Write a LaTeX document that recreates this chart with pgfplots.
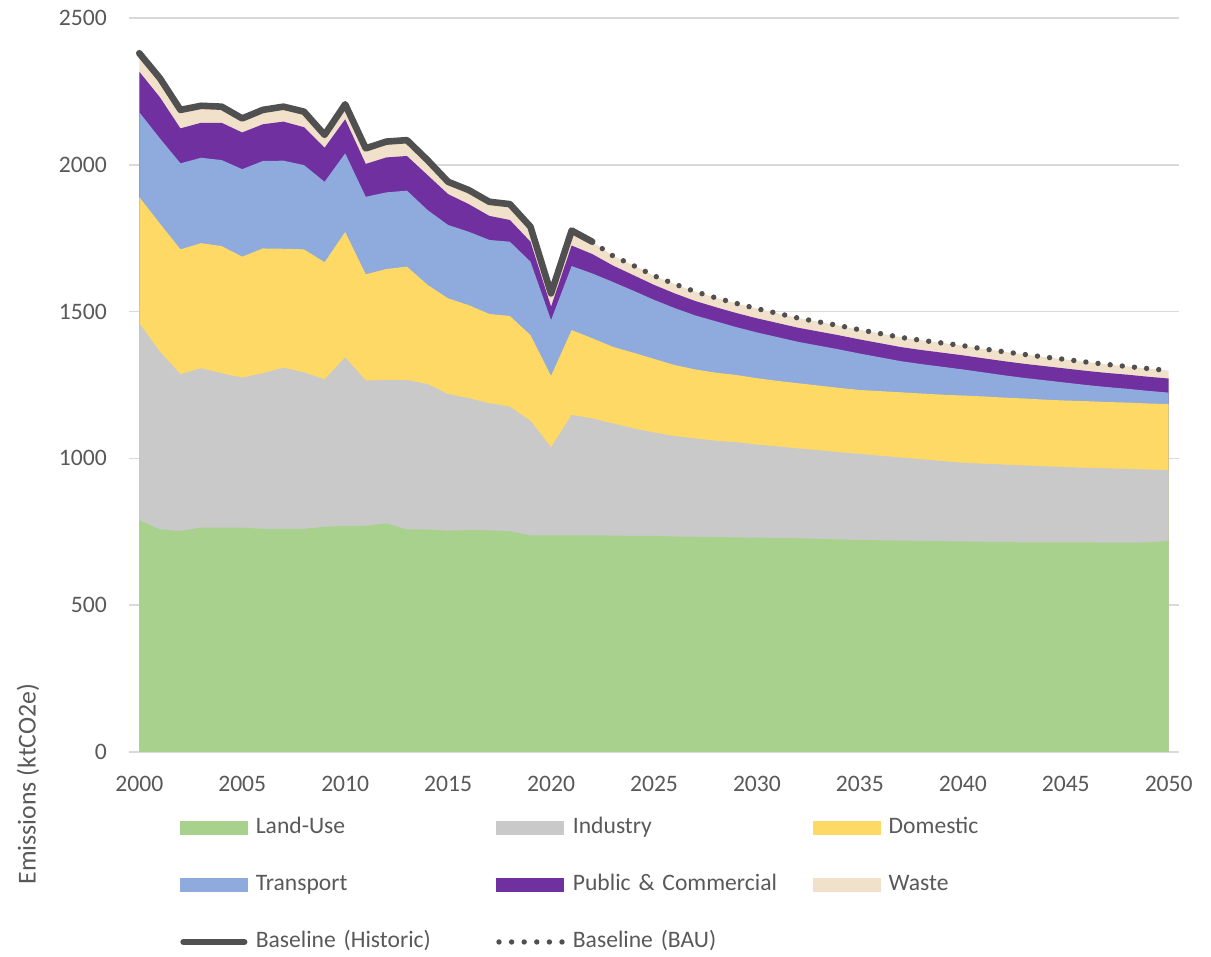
\documentclass[border=0pt]{standalone}
\usepackage{pgfplots}
\pgfplotsset{compat=1.18}
\usepackage{pgfplotstable}
\usepackage{fontspec}
\setmainfont{Carlito}

\definecolor{landc}{HTML}{A9D18E}
\definecolor{indc}{HTML}{C9C9C9}
\definecolor{domc}{HTML}{FFD966}
\definecolor{transc}{HTML}{8FAADC}
\definecolor{pubc}{HTML}{7030A0}
\definecolor{wastec}{HTML}{F2E1CA}
\definecolor{histc}{HTML}{505050}
\definecolor{textc}{HTML}{595959}
\definecolor{gridc}{HTML}{D9D9D9}

% cumulative tops of each band: L=Land-Use, I=+Industry, D=+Domestic, T=+Transport, P=+Public&Commercial, W=+Waste (total)
\pgfplotstableread{
year L I D T P W
2000 790 1460 1890 2179 2317 2380
2001 758 1363 1800 2090 2230 2295
2002 753 1287 1712 2005 2124 2187
2003 764 1307 1733 2024 2143 2201
2004 764 1290 1723 2016 2143 2198
2005 764 1275 1687 1985 2110 2158
2006 760 1290 1715 2013 2138 2187
2007 760 1309 1714 2014 2147 2198
2008 760 1293 1712 1999 2128 2181
2009 767 1269 1668 1942 2058 2102
2010 770 1344 1771 2039 2155 2206
2011 770 1265 1627 1891 2003 2056
2012 779 1267 1645 1906 2025 2079
2013 758 1267 1653 1912 2030 2084
2014 758 1253 1591 1846 1965 2016
2015 754 1219 1545 1795 1900 1942
2016 756 1205 1522 1772 1866 1914
2017 755 1188 1492 1744 1826 1874
2018 752 1176 1485 1738 1812 1866
2019 738 1128 1420 1670 1738 1789
2020 738 1038 1281 1471 1517 1562
2021 738 1148 1437 1655 1725 1776
2022 738 1136 1409 1630 1696 1738
2023 737 1119 1380 1601 1657 1690
2024 736 1102 1360 1571 1624 1657
2025 736 1088 1339 1540 1591 1622
2026 734 1076 1318 1512 1562 1594
2027 733 1068 1303 1487 1536 1568
2028 732 1060 1292 1467 1515 1547
2029 731 1055 1284 1447 1495 1528
2030 730 1047 1273 1429 1477 1510
2031 729 1041 1264 1413 1461 1494
2032 728 1034 1256 1397 1445 1478
2033 726 1028 1248 1384 1432 1465
2034 724 1021 1240 1371 1419 1452
2035 722 1015 1233 1357 1405 1438
2036 721 1009 1229 1344 1392 1425
2037 720 1003 1225 1331 1379 1412
2038 719 997 1221 1321 1369 1402
2039 718 991 1217 1312 1360 1393
2040 717 985 1214 1303 1351 1384
2041 716 982 1211 1293 1341 1373
2042 715 979 1207 1283 1331 1363
2043 714 976 1204 1274 1322 1354
2044 714 973 1200 1266 1314 1345
2045 714 970 1197 1258 1306 1337
2046 714 968 1195 1250 1298 1328
2047 713 966 1192 1243 1291 1320
2048 713 964 1190 1237 1285 1313
2049 714 962 1187 1230 1278 1306
2050 719 960 1185 1224 1272 1299
}\data

\begin{document}
\begin{tikzpicture}
\useasboundingbox (0,0) rectangle (605.5pt,478.5pt);
\begin{axis}[
  at={(64.5pt,102.5pt)}, anchor=south west,
  scale only axis, width=525pt, height=367pt,
  xmin=1999.5, xmax=2050.5, ymin=0, ymax=2500,
  xtick={2000,2005,...,2050}, ytick={0,500,...,2500},
  /pgf/number format/1000 sep={},
  /pgf/number format/assume math mode=true,
  axis line style={draw=none},
  major tick length=0pt,
  ymajorgrids, grid style={draw=gridc, line width=0.8pt},
  tick label style={font=\fontsize{11.8}{14}\selectfont, text=textc},
  xticklabel style={yshift=-8.6pt},
  yticklabel style={xshift=-7.6pt},
  ylabel={Emissions (ktCO2e)},
  ylabel style={at={(rel axis cs:-0.0962,-0.0436)}, anchor=center, rotate=0,
    font=\fontsize{12.9}{15}\selectfont, text=textc},
  legend columns=3,
  legend cell align=left,
  legend style={at={(rel axis cs:0.04857,-0.0892)}, anchor=north west,
    draw=none, fill=none, inner sep=0pt, outer sep=0pt,
    /tikz/column sep=0pt, /tikz/row sep=18pt,
    nodes={text width=116pt, align=left, inner xsep=4pt, inner ysep=0pt,
      text height=8pt, text depth=2.5pt,
      font=\fontsize{11.8}{14}\selectfont, text=textc}},
]
\addplot[fill=wastec, draw=none, forget plot] table[x=year, y=W] {\data} \closedcycle;
\addplot[fill=pubc, draw=none, forget plot] table[x=year, y=P] {\data} \closedcycle;
\addplot[fill=transc, draw=none, forget plot] table[x=year, y=T] {\data} \closedcycle;
\addplot[fill=domc, draw=none, forget plot] table[x=year, y=D] {\data} \closedcycle;
\addplot[fill=indc, draw=none, forget plot] table[x=year, y=I] {\data} \closedcycle;
\addplot[fill=landc, draw=none, forget plot] table[x=year, y=L] {\data} \closedcycle;
\addplot[histc, line width=3.3pt, line join=round, line cap=round, forget plot,
  restrict x to domain=2000:2022] table[x=year, y=W] {\data};
\addplot[histc, line width=2.7pt, line cap=round, dash pattern=on 0pt off 6.1pt, forget plot,
  restrict x to domain=2022:2050] table[x=year, y=W] {\data};

\addlegendimage{legend image code/.code={\fill[landc] (0pt,-3.25pt) rectangle (33.5pt,3.25pt);}}
\addlegendentry{Land-Use}
\addlegendimage{legend image code/.code={\fill[indc] (0pt,-3.25pt) rectangle (33.5pt,3.25pt);}}
\addlegendentry{Industry}
\addlegendimage{legend image code/.code={\fill[domc] (0pt,-3.25pt) rectangle (33.5pt,3.25pt);}}
\addlegendentry{Domestic}
\addlegendimage{legend image code/.code={\fill[transc] (0pt,-3.25pt) rectangle (33.5pt,3.25pt);}}
\addlegendentry{Transport}
\addlegendimage{legend image code/.code={\fill[pubc] (0pt,-3.25pt) rectangle (33.5pt,3.25pt);}}
\addlegendentry{Public \& Commercial}
\addlegendimage{legend image code/.code={\fill[wastec] (0pt,-3.25pt) rectangle (33.5pt,3.25pt);}}
\addlegendentry{Waste}
\addlegendimage{legend image code/.code={\draw[histc, line width=3.3pt, line cap=round] (1.6pt,0pt) -- (31.9pt,0pt);}}
\addlegendentry{Baseline (Historic)}
\addlegendimage{legend image code/.code={\draw[histc, line width=2.7pt, line cap=round, dash pattern=on 0pt off 6.3pt] (1.4pt,0pt) -- (33pt,0pt);}}
\addlegendentry{Baseline (BAU)}
\end{axis}
\end{tikzpicture}
\end{document}
